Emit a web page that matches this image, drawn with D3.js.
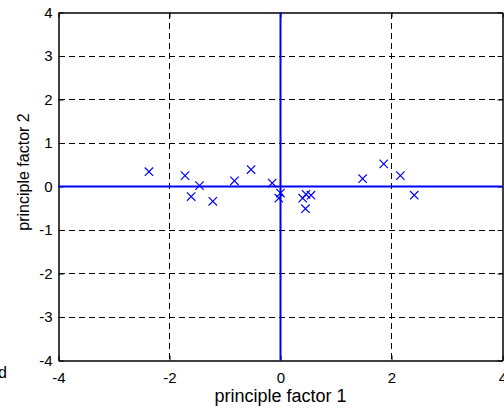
<!DOCTYPE html>
<html>
<head>
<meta charset="utf-8">
<script src="https://cdn.jsdelivr.net/npm/d3@7"></script>
<style>
  body { margin: 0; background: #fff; }
  svg { display: block; font-family: "Liberation Sans", Arial, sans-serif; }
</style>
</head>
<body>
<svg id="chart" width="504" height="412"></svg>
<script>
// scores on the first two principle factors
const factor1 = [-2.37, -1.72, -1.46, -1.61, -1.22, -0.83, -0.53, -0.15, 0.0, -0.03,
                 0.40, 0.46, 0.55, 0.45, 1.48, 1.86, 2.16, 2.41];
const factor2 = [0.34, 0.25, 0.02, -0.23, -0.34, 0.13, 0.39, 0.08, -0.15, -0.27,
                 -0.27, -0.18, -0.20, -0.51, 0.18, 0.52, 0.25, -0.20];
const xTicks = [-4, -2, 0, 2, 4];
const yTicks = [-4, -3, -2, -1, 0, 1, 2, 3, 4];

const plotL = 58.5, plotR = 502.5, plotT = 12.5, plotB = 360.5;

const svg = d3.select("#chart");

const x = d3.scaleLinear().domain([-4, 4]).range([plotL, plotR]);
const y = d3.scaleLinear().domain([-4, 4]).range([plotB, plotT]);

const fmt = d => String(d);   // plain hyphen, like the reference

// dashed grid
const grid = svg.append("g")
  .attr("stroke", "#000")
  .attr("stroke-dasharray", "6,4")
  .attr("shape-rendering", "crispEdges");

grid.selectAll(".gx")
  .data(xTicks.slice(1, -1))
  .enter().append("line")
    .attr("x1", d => x(d)).attr("x2", d => x(d))
    .attr("y1", plotT).attr("y2", plotB);

grid.selectAll(".gy")
  .data(yTicks.slice(1, -1))
  .enter().append("line")
    .attr("y1", d => y(d)).attr("y2", d => y(d))
    .attr("x1", plotL).attr("x2", plotR);

// axes with inward ticks
svg.append("g")
  .attr("transform", `translate(0,${plotB})`)
  .call(d3.axisBottom(x).tickValues(xTicks).tickFormat(fmt).tickSizeInner(-5).tickSizeOuter(0).tickPadding(12));

svg.append("g")
  .attr("transform", `translate(${plotL},0)`)
  .call(d3.axisLeft(y).tickValues(yTicks).tickFormat(fmt).tickSizeInner(-5).tickSizeOuter(0).tickPadding(6));

svg.append("g")
  .attr("transform", `translate(0,${plotT})`)
  .call(d3.axisTop(x).tickValues(xTicks).tickSizeInner(-5).tickSizeOuter(0).tickFormat(""));

svg.append("g")
  .attr("transform", `translate(${plotR},0)`)
  .call(d3.axisRight(y).tickValues(yTicks).tickSizeInner(-5).tickSizeOuter(0).tickFormat(""));

svg.selectAll(".domain").attr("stroke", "#000").attr("stroke-width", 1.5);
svg.selectAll(".tick line").attr("stroke", "#000");
svg.selectAll(".tick text")
  .attr("font-size", 15)
  .attr("font-family", "Liberation Sans, Arial, sans-serif")
  .attr("fill", "#000");

// zero lines
svg.append("line")
  .attr("x1", plotL).attr("x2", plotR)
  .attr("y1", y(0)).attr("y2", y(0))
  .attr("stroke", "#0000ff").attr("stroke-width", 2);

svg.append("line")
  .attr("x1", x(0)).attr("x2", x(0))
  .attr("y1", plotT).attr("y2", plotB)
  .attr("stroke", "#0000ff").attr("stroke-width", 2);

// x markers
const s = 4.2;
const pts = factor1.map((v, i) => [v, factor2[i]]);
svg.append("g")
  .attr("stroke", "#0000ff")
  .attr("stroke-width", 1.2)
  .selectAll("path")
  .data(pts)
  .enter().append("path")
    .attr("d", d => {
      const px = x(d[0]), py = y(d[1]);
      return `M${px - s},${py - s}L${px + s},${py + s}M${px - s},${py + s}L${px + s},${py - s}`;
    });

// axis labels
svg.append("text")
  .attr("x", (plotL + plotR) / 2)
  .attr("y", 402)
  .attr("text-anchor", "middle")
  .attr("font-size", 18)
  .text("principle factor 1");

svg.append("text")
  .attr("transform", `translate(29,172) rotate(-90)`)
  .attr("text-anchor", "middle")
  .attr("font-size", 16)
  .text("principle factor 2");

// clipped fragment from neighbouring label
svg.append("text")
  .attr("x", 7)
  .attr("y", 378)
  .attr("text-anchor", "end")
  .attr("font-size", 16)
  .text("d");
</script>
</body>
</html>
